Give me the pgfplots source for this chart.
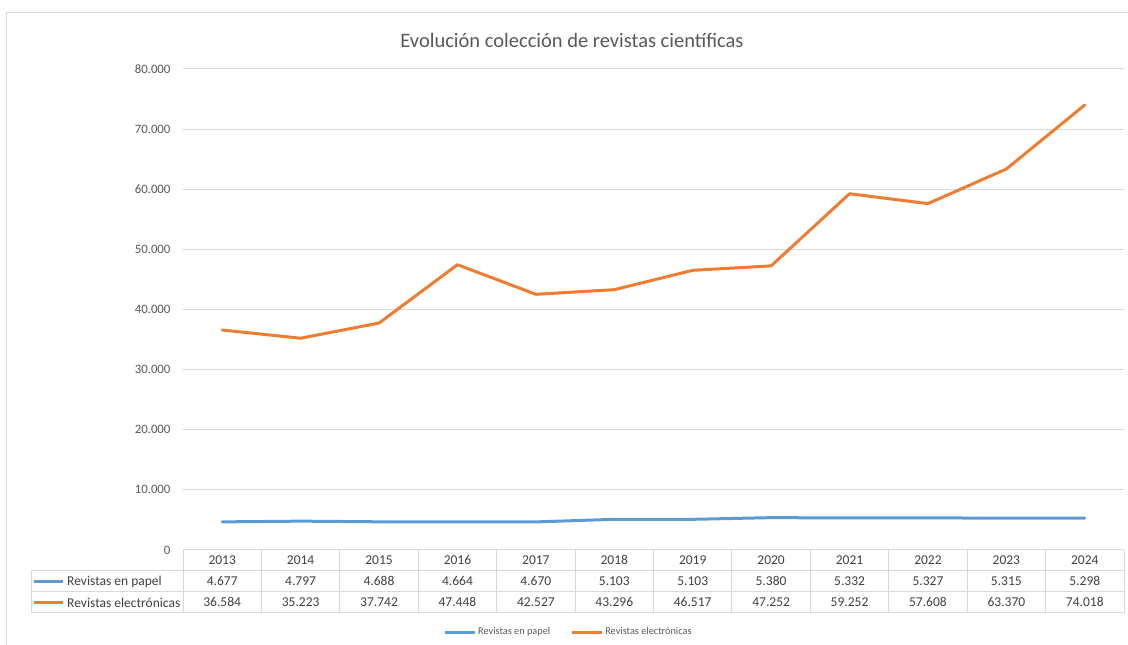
\documentclass[border=0pt]{standalone}
\usepackage{fontspec}
\setmainfont{Carlito}
\usepackage{pgfplots}
\usepackage{pgfplotstable}
\pgfplotsset{compat=1.18}
\definecolor{papel}{HTML}{5B9BD5}
\definecolor{elec}{HTML}{ED7D31}
\definecolor{gridc}{HTML}{D9D9D9}
\definecolor{txt}{HTML}{595959}
\definecolor{tabtxt}{HTML}{404040}
\pgfkeys{/pgf/number format/.cd,1000 sep={.},assume math mode=true}
\tikzset{tabnode/.style={anchor=center, inner sep=0pt, text height=9pt, text depth=0pt,
    font=\fontsize{13.5}{15}\selectfont, text=tabtxt}}
\pgfplotstableread{
idx year papel elec
0 2013 4677 36584
1 2014 4797 35223
2 2015 4688 37742
3 2016 4664 47448
4 2017 4670 42527
5 2018 5103 43296
6 2019 5103 46517
7 2020 5380 47252
8 2021 5332 59252
9 2022 5327 57608
10 2023 5315 63370
11 2024 5298 74018
}\data
\begin{document}
\begin{tikzpicture}[x=1pt,y=1pt]
\useasboundingbox (0,0) rectangle (1128,645);
\draw[gridc, line width=1pt] (6,-20) -- (6,632) -- (1160,632);
\node[text=txt, font=\fontsize{20.5}{24}\selectfont] at (572,605) {Evolución colección de revistas científicas};
% table grid
\draw[gridc, line width=1pt] (183,95) -- (1124,95);
\foreach \yy in {74,53,32} \draw[gridc, line width=1pt] (31,\yy) -- (1124,\yy);
\draw[gridc, line width=1pt] (31,74) -- (31,32);
\foreach \k in {0,...,12} \draw[gridc, line width=1pt] ({183+\k*78.4167},95) -- ({183+\k*78.4167},32);
% row labels
\draw[papel, line width=3pt] (34,63.5) -- (63,63.5);
\draw[elec, line width=3pt] (34,42.5) -- (63,42.5);
\node[anchor=west, inner sep=0pt, text=tabtxt, font=\fontsize{13.5}{15}\selectfont] at (67,63.5) {Revistas en papel};
\node[anchor=west, inner sep=0pt, text=tabtxt, font=\fontsize{13.5}{15}\selectfont] at (67,42.5) {Revistas electrónicas};
\begin{axis}[
  at={(183pt,95pt)}, anchor=south west, scale only axis,
  width=941pt, height=481pt,
  xmin=-0.5, xmax=11.5, ymin=0, ymax=80000,
  ytick={0,10000,...,80000}, xtick=\empty,
  axis line style={draw=none}, ymajorgrids,
  grid style={gridc, line width=1pt},
  major tick length=0pt, scaled y ticks=false,
  yticklabel style={font=\fontsize{12.8}{14}\selectfont, text=txt, xshift=-9pt},
  clip=false,
  legend style={at={(0.4095,-0.1705)}, anchor=center, draw=none, fill=none,
    legend columns=2, font=\fontsize{10.3}{12}\selectfont, text=txt,
    /tikz/every even column/.append style={column sep=18pt}},
  legend image code/.code={\draw[#1, line cap=butt] (0pt,0pt) -- (30pt,0pt);},
]
\addplot[papel, line width=3pt, line join=round, line cap=round] table[x=idx,y=papel]{\data};
\addlegendentry{Revistas en papel}
\addplot[elec, line width=3pt, line join=round, line cap=round] table[x=idx,y=elec]{\data};
\addlegendentry{Revistas electrónicas}
\addplot[draw=none, forget plot, nodes near coords, point meta=explicit symbolic,
  every node near coord/.append style={tabnode}]
  table[x=idx, y expr=-1746, meta=year]{\data};
\addplot[draw=none, forget plot, nodes near coords, point meta=explicit,
  nodes near coords={\pgfmathprintnumber[fixed,precision=0]{\pgfplotspointmeta}},
  every node near coord/.append style={tabnode}]
  table[x=idx, y expr=-5239, meta=papel]{\data};
\addplot[draw=none, forget plot, nodes near coords, point meta=explicit,
  nodes near coords={\pgfmathprintnumber[fixed,precision=0]{\pgfplotspointmeta}},
  every node near coord/.append style={tabnode}]
  table[x=idx, y expr=-8732, meta=elec]{\data};
\end{axis}
\end{tikzpicture}
\end{document}
